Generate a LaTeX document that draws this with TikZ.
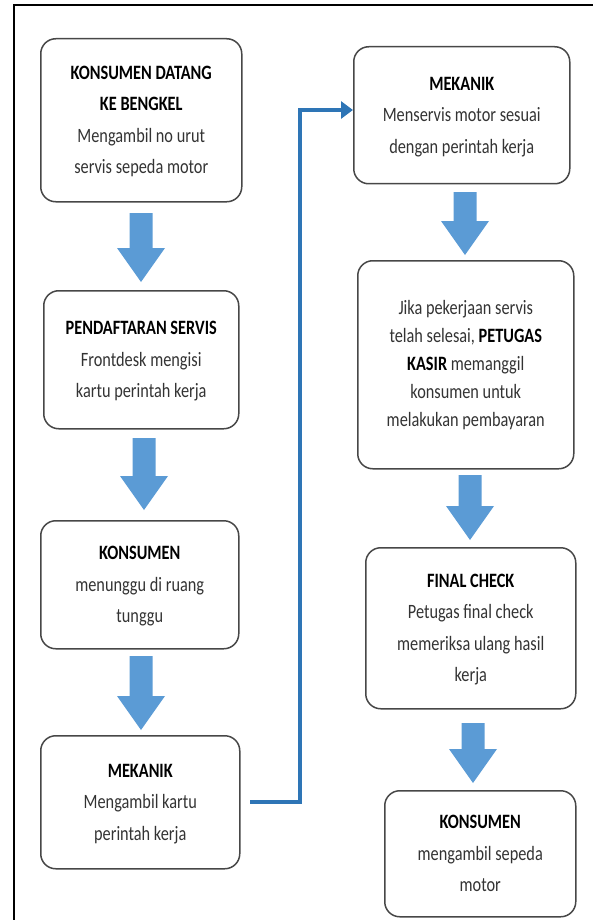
\documentclass[tikz,border=0pt]{standalone}
\usepackage{fontspec}
\usepackage{graphicx}
\setmainfont{Carlito}
\usetikzlibrary{arrows.meta}
\definecolor{arrowblue}{HTML}{5B9BD5}
\definecolor{lineblue}{HTML}{2E75B6}
\definecolor{textgray}{HTML}{333333}
\newcommand\blockdown[3]{%
  \fill[arrowblue] ({#1-11.5},#2) -- ({#1+11.5},#2) -- ({#1+11.5},{#3-34}) -- ({#1+24},{#3-34}) -- (#1,#3) -- ({#1-24},{#3-34}) -- ({#1-11.5},{#3-34}) -- cycle;}
\newcommand\stx[1]{\scalebox{1}[1.25]{\begin{tabular}{@{}c@{}}#1\end{tabular}}}
\newcommand\hb[1]{\textbf{\color{black}#1}}
\tikzset{
  box/.style={draw=black!72, line width=1.5pt, rounded corners=15pt, anchor=north west,
    align=center, inner sep=0pt, text=textgray,
    font=\fontsize{16.3}{25.2}\selectfont},
  flowline/.style={draw=lineblue, line width=3.4pt, -{Triangle[length=12pt,width=17pt]}},
}
\begin{document}
\begin{tikzpicture}[x=1pt,y=-1pt]
\useasboundingbox (0,0) rectangle (592,920);
\draw[line width=2pt, line cap=rect] (14,920) -- (14,5) -- (592,5);
% left column
\node[box, minimum width=201pt, minimum height=163pt] (b1) at (40,38)
  {\stx{\hb{KONSUMEN DATANG}\\\hb{KE BENGKEL}\\Mengambil no urut\\servis sepeda motor}};
\node[box, minimum width=195pt, minimum height=138pt] (b2) at (43,290)
  {\stx{\hb{PENDAFTARAN SERVIS}\\Frontdesk mengisi\\kartu perintah kerja}};
\node[box, minimum width=198pt, minimum height=128pt] (b3) at (40,520)
  {\stx{\hb{KONSUMEN}\\menunggu di ruang\\tunggu}};
\node[box, minimum width=199pt, minimum height=133pt] (b4) at (40,735)
  {\stx{\hb{MEKANIK}\\Mengambil kartu\\perintah kerja}};
% right column
\node[box, minimum width=216pt, minimum height=137pt] (b5) at (353,46)
  {\stx{\hb{MEKANIK}\\Menservis motor sesuai\\dengan perintah kerja}};
\node[box, minimum width=216pt, minimum height=208pt, font=\fontsize{16.3}{22.4}\selectfont] (b6) at (357,260)
  {\stx{Jika pekerjaan servis\\telah selesai, \hb{PETUGAS}\\\hb{KASIR} memanggil\\konsumen untuk\\melakukan pembayaran}};
\node[box, minimum width=210pt, minimum height=161pt] (b7) at (365,547)
  {\stx{\hb{FINAL CHECK}\\Petugas final check\\memeriksa ulang hasil\\kerja}};
\node[box, minimum width=191pt, minimum height=126pt] (b8) at (384,790)
  {\stx{\hb{KONSUMEN}\\mengambil sepeda\\motor}};
% block arrows
\blockdown{141}{213}{282}
\blockdown{144}{438}{510}
\blockdown{141}{656}{730}
\blockdown{465}{192}{255}
\blockdown{470}{475}{540}
\blockdown{473}{723}{783}
% connector
\coordinate (c1) at (250,802);
\coordinate (j) at (300,110);
\draw[flowline] (c1) -| (j) -- (b5.west |- j);
\end{tikzpicture}
\end{document}
